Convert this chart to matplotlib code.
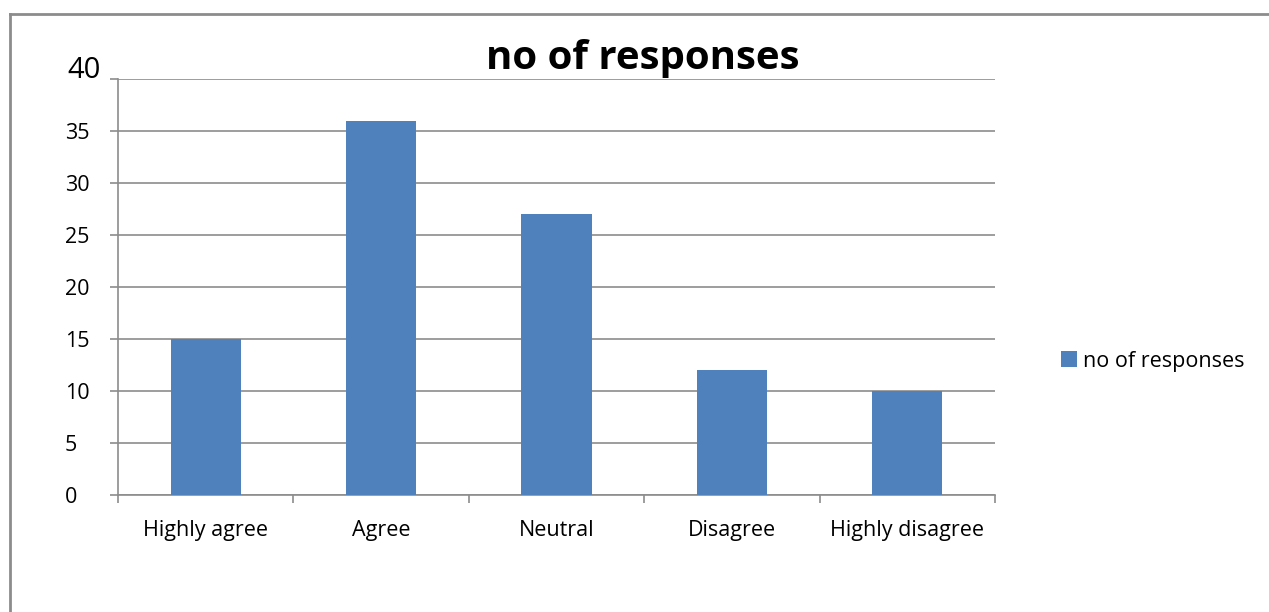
import matplotlib
matplotlib.use("Agg")
import matplotlib.pyplot as plt
from matplotlib.lines import Line2D
import numpy as np

categories = ["Highly agree", "Agree", "Neutral", "Disagree", "Highly disagree"]
values = [15, 36, 27, 12, 10]
series_name = "no of responses"
yticks = [0, 5, 10, 15, 20, 25, 30, 35, 40]

plt.rcParams['font.family'] = ['Open Sans', 'DejaVu Sans']

W, H = 1269, 612
fig = plt.figure(figsize=(W / 100, H / 100), dpi=100)
ax = fig.add_axes([118 / W, 1 - 495 / H, (995 - 118) / W, (495 - 79) / H])

bar_color = "#4F81BD"
grid_color = "#8C8C8C"
fs = 15.5
x = np.arange(len(categories))
ax.bar(x, values, width=0.4, color=bar_color, label=series_name, zorder=3)

ax.set_xlim(-0.5, len(categories) - 0.5)
ax.set_ylim(0, 40)

ax.set_yticks(yticks)
ax.set_yticklabels([str(t) if t != 40 else "" for t in yticks], fontsize=fs, ha='left')
ax.tick_params(axis='y', direction='out', length=6, width=1.2, color=grid_color, pad=32.4)
ax.yaxis.grid(True, color=grid_color, linewidth=1.2, zorder=0)

ax.set_xticks(x)
ax.set_xticklabels(categories, fontsize=fs)
ax.tick_params(axis='x', which='major', length=0, pad=18)
ax.set_xticks(np.arange(len(categories) + 1) - 0.5, minor=True)
ax.tick_params(axis='x', which='minor', direction='out', length=6, width=1.2, color=grid_color)

for s in ['top', 'right']:
    ax.spines[s].set_visible(False)
for s in ['left', 'bottom']:
    ax.spines[s].set_color(grid_color)
    ax.spines[s].set_linewidth(1.2)

# enlarged top label
ax.annotate("40", xy=(0, 40), xycoords=('axes fraction', 'data'),
            xytext=(-51 * 0.72, 6), textcoords='offset points',
            ha='left', va='center', fontsize=21)

fig.text(643 / W, 1 - 59 / H, series_name, ha='center', va='center',
         fontsize=29, fontweight='bold')

fig.legend(loc='center left', bbox_to_anchor=(1052 / W, 1 - 361 / H), frameon=False,
           fontsize=fs, handlelength=0.75, handleheight=0.75, handletextpad=0.3,
           borderaxespad=0)

# outer frame
fx = 10 / W
fy = 1 - 14 / H
fig.add_artist(Line2D([fx, fx], [0, fy], color="#8C8C8C", linewidth=2, transform=fig.transFigure))
fig.add_artist(Line2D([fx, 1], [fy, fy], color="#8C8C8C", linewidth=2, transform=fig.transFigure))

fig.savefig("out.png", dpi=100)
